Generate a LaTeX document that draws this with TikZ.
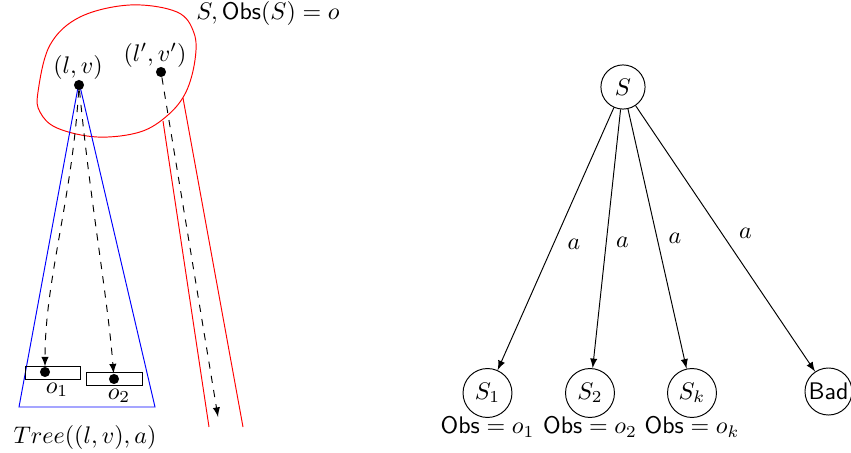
\documentclass[tikz,border=0pt]{standalone}
\usetikzlibrary{arrows}
\begin{document}
\begin{tikzpicture}[x=0.4167pt,y=0.4167pt,>=latex,
  dot/.style={circle,fill=black,inner sep=0pt,minimum size=4.2pt},
  st/.style={circle,draw,inner sep=1.5pt,minimum size=20.4pt},
  lbl/.style={inner sep=1pt},
  box/.style={draw,inner sep=0pt}]
\useasboundingbox (0,0) rectangle (851,-453);
% red blob
\draw[red] plot[smooth cycle,tension=0.6] coordinates {(38,-92) (50,-45) (80,-17) (130,-5) (177,-12) (194,-33) (195,-60) (186,-92) (168,-115) (140,-132) (97,-137) (57,-128) (40,-112)};
% red lines
\coordinate (r1a) at (163,-121);
\coordinate (r1b) at (209,-427);
\coordinate (r2a) at (183,-98);
\coordinate (r2b) at (243,-427);
\draw[red] (r1a) -- (r1b);
\draw[red] (r2a) -- (r2b);
% blue triangle
\coordinate (apex) at (79,-82);
\coordinate (bl) at (19,-407);
\coordinate (br) at (155,-407);
\draw[blue] (apex) -- (bl) -- (br) -- cycle;
% boxes
\node[box,minimum width=23pt,minimum height=5.4pt] (b1) at (53,-372.5) {};
\node[box,minimum width=23pt,minimum height=5.8pt] (b2) at (114.5,-379) {};
% dots
\node[dot] (lv) at (79,-85) {};
\node[dot] (lvp) at (161,-72) {};
\node[dot] (d1) at (45,-372) {};
\node[dot] (d2) at (114,-379) {};
\coordinate (end3) at (218,-417);
% labels
\node[lbl] (lvl) at (78,-68) {$(l,v)$};
\node[lbl] (lvpl) at (155,-55) {$(l',v')$};
\node[lbl] (o1) at (57,-390) {$o_1$};
\node[lbl] (o2) at (119,-396) {$o_2$};
\node[lbl] (tree) at (85,-437) {$Tree((l,v),a)$};
\node[lbl] (sobs) at (268,-14) {$S, \mathsf{Obs}(S) = o$};
% dashed arrows
\draw[dashed,->] (lv) .. controls (72,-200) and (45,-280) .. (d1);
\draw[dashed,->] (lv) .. controls (90,-200) and (108,-300) .. (d2);
\draw[dashed,->] (lvp) -- (end3);
% right graph
\node[st,minimum size=18.4pt] (S) at (623,-87) {$S$};
\node[st] (S1) at (487.5,-393) {$S_1$};
\node[st] (S2) at (590,-393) {$S_2$};
\node[st] (Sk) at (692,-393) {$S_k$};
\node[st,inner sep=0pt,minimum size=19.6pt] (Bad) at (828.5,-391.5) {\textsf{Bad}};
\draw[->] (S) -- node[auto,pos=0.47] {$a$} (S1);
\draw[->] (S) -- node[auto,pos=0.46] {$a$} (S2);
\draw[->] (S) -- node[auto,pos=0.55] {$a$} (Sk);
\draw[->] (S) -- node[auto,pos=0.53] {$a$} (Bad);
\node[lbl] (ob1) at (487.5,-427) {$\mathsf{Obs} = o_1$};
\node[lbl] (ob2) at (590,-427) {$\mathsf{Obs} = o_2$};
\node[lbl] (obk) at (692,-427) {$\mathsf{Obs} = o_k$};
\end{tikzpicture}
\end{document}
